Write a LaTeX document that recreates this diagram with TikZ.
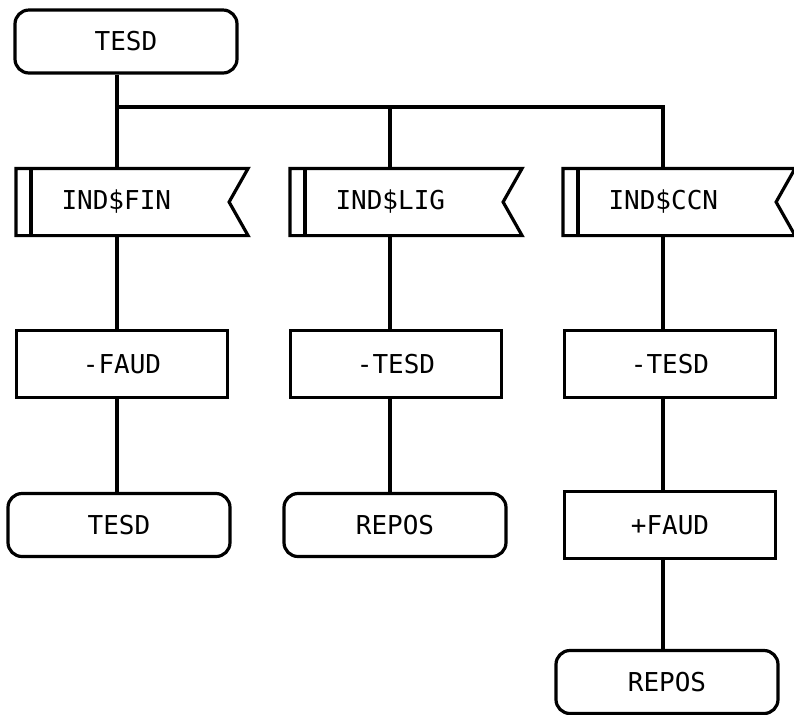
\documentclass[tikz,border=0pt]{standalone}
\usepackage{fontspec}
\setmonofont{DejaVu Sans Mono}
\usetikzlibrary{shapes}
\tikzstyle{state} = [draw, rectangle, rounded corners=7pt,
    minimum width=111pt, minimum height=31.5pt]
\tikzstyle{task} = [draw, rectangle, minimum width=105.5pt, minimum height=33.5pt]
\tikzstyle{insig} = [rectangle, minimum width=114.5pt, minimum height=32pt,
    text width=70.5pt, align=left]

\begin{document}
\begin{tikzpicture}[x=0.5pt,y=-0.5pt,line width=1.6pt,inner sep=0pt,
    font=\ttfamily\fontsize{13}{15}\selectfont]
      \fill[white] (0,0) rectangle (794,714);
      \useasboundingbox (0,0) rectangle (794,714);

      % starting state and the bus under it
      \node[state] (start) at (126,41.5) {TESD};
      \coordinate (b1) at (117,107);
      \coordinate (b2) at (390,107);
      \coordinate (b3) at (663,107);

      % the three inputs
      \node[insig] (sig1) at (132,202) {IND\$FIN};
      \node[insig] (sig2) at (406,202) {IND\$LIG};
      \node[insig] (sig3) at (679,202) {IND\$CCN};
      \foreach \s in {sig1,sig2,sig3}{
        \draw (\s.north west) -- (\s.north east) -- ([xshift=-9.5pt]\s.east)
          -- (\s.south east) -- (\s.south west) -- cycle;
        \draw ([xshift=7.5pt]\s.north west) -- ([xshift=7.5pt]\s.south west);
      }

      % tasks and next states
      \node[task] (act1) at (122,364) {-FAUD};
      \node[task] (act2) at (396,364) {-TESD};
      \node[task] (act3) at (670,364) {-TESD};
      \node[state] (end1) at (119,525) {TESD};
      \node[state] (end2) at (395,525) {REPOS};
      \node[task] (act4) at (670,525) {+FAUD};
      \node[state] (end3) at (667,682) {REPOS};

      % connections
      \draw (start.south -| b1) -- (b1) -- (b3) -- (sig3.north -| b3);
      \draw (b1) -- (sig1.north -| b1);
      \draw (b2) -- (sig2.north -| b2);
      \draw (sig1.south -| b1) -- (act1.north -| b1);
      \draw (act1.south -| b1) -- (end1.north -| b1);
      \draw (sig2.south -| b2) -- (act2.north -| b2);
      \draw (act2.south -| b2) -- (end2.north -| b2);
      \draw (sig3.south -| b3) -- (act3.north -| b3);
      \draw (act3.south -| b3) -- (act4.north -| b3);
      \draw (act4.south -| b3) -- (end3.north -| b3);
\end{tikzpicture}
\end{document}
